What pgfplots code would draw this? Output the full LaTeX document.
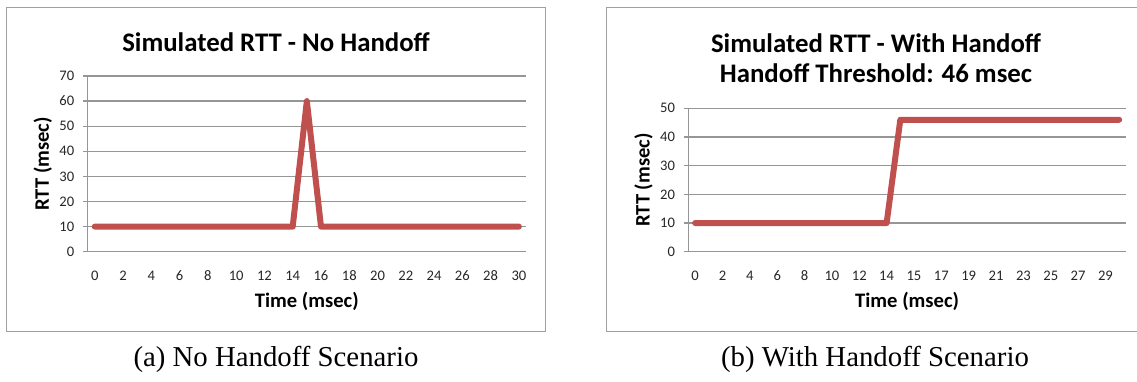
\documentclass[border=0pt]{standalone}
\usepackage{pgfplots}
\pgfplotsset{compat=1.18}
\usepackage{fontspec}
\setmainfont{Carlito}
\newfontfamily\capfont{Liberation Serif}
\definecolor{exred}{RGB}{192,80,77}
\definecolor{gridgray}{RGB}{150,150,150}
\definecolor{boxgray}{RGB}{160,160,160}
\pgfplotsset{
  rttstyle/.style={
    scale only axis,
    axis x line*=bottom,
    axis y line*=left,
    axis line style={gridgray, line width=0.6pt},
    ymajorgrids,
    grid style={gridgray, line width=0.6pt},
    tick align=outside,
    major tick length=2.2pt,
    minor tick length=2.25pt,
    xtick style={draw=none},
    minor x tick style={gridgray, line width=0.6pt},
    y tick style={gridgray, line width=0.6pt},
    /pgf/number format/assume math mode=true,
    tick label style={font=\fontsize{7.3}{9}\selectfont, text=black!85},
    xticklabel style={anchor=base, inner sep=0pt, yshift=-12.3pt},
    yticklabel style={anchor=east, inner sep=0pt, xshift=-4.3pt},
    label style={font=\fontsize{10.3}{12}\selectfont\bfseries},
    xlabel style={at={(axis description cs:0.5,0)}, anchor=center, yshift=-24.9pt},
    ylabel style={at={(axis description cs:0,0.5)}, anchor=center, yshift=22.4pt},
  },
  rttline/.style={exred, line width=3pt, line cap=round, line join=round, no markers},
}
\begin{document}
\begin{tikzpicture}[x=1pt,y=1pt]
\clip (0,0) rectangle (568.5,190.5);
% panel boxes
\draw[boxgray, line width=0.6pt] (3.35,24.65) rectangle (272.85,186.85);
\draw[boxgray, line width=0.6pt] (303.35,24.65) rectangle (572.5,186.85);

% left chart
\begin{axis}[rttstyle,
  at={(43.85pt,64.65pt)}, anchor=south west,
  width=219.15pt, height=87.85pt,
  xmin=-0.5, xmax=30.5, ymin=0, ymax=70,
  ytick={0,10,...,70},
  xtick={0,2,...,30},
  xticklabels={0,2,4,6,8,10,12,14,16,18,20,22,24,26,28,30},
  minor xtick={-0.5,1.5,...,29.5,30.5},
  xlabel={Time (msec)}, ylabel={RTT (msec)},
]
\addplot[rttline] coordinates {
(0,10) (1,10) (2,10) (3,10) (4,10) (5,10) (6,10) (7,10) (8,10) (9,10)
(10,10) (11,10) (12,10) (13,10) (14,10) (15,60) (16,10) (17,10) (18,10) (19,10)
(20,10) (21,10) (22,10) (23,10) (24,10) (25,10) (26,10) (27,10) (28,10) (29,10) (30,10)
};
\end{axis}
\node[font=\fontsize{13.4}{15}\selectfont\bfseries, anchor=center] at (138,169.5) {Simulated RTT - No Handoff};

% right chart
\begin{axis}[rttstyle,
  at={(344.15pt,64.65pt)}, anchor=south west,
  width=218.85pt, height=71.7pt,
  xmin=-0.5, xmax=31.5, ymin=0, ymax=50,
  ytick={0,10,...,50},
  xtick={0,2,...,30},
  xticklabels={0,2,4,6,8,10,12,14,15,17,19,21,23,25,27,29},
  minor xtick={-0.5,1.5,...,31.5},
  xlabel={Time (msec)}, ylabel={RTT (msec)},
]
\addplot[rttline] coordinates {
(0,10) (1,10) (2,10) (3,10) (4,10) (5,10) (6,10) (7,10) (8,10) (9,10)
(10,10) (11,10) (12,10) (13,10) (14,10) (15,46) (16,46) (17,46) (18,46) (19,46)
(20,46) (21,46) (22,46) (23,46) (24,46) (25,46) (26,46) (27,46) (28,46) (29,46) (30,46) (31,46)
};
\end{axis}
\node[font=\fontsize{13.4}{15}\selectfont\bfseries, anchor=base] at (438,164.3) {Simulated RTT - With Handoff};
\node[font=\fontsize{13.4}{15}\selectfont\bfseries, anchor=base] at (438,149.3) {Handoff Threshold: 46 msec};

% captions
\node[font=\fontsize{14.4}{16}\capfont, anchor=base] at (138,7.5) {(a) No Handoff Scenario};
\node[font=\fontsize{14.4}{16}\capfont, anchor=base] at (437.5,7.5) {(b) With Handoff Scenario};
\end{tikzpicture}
\end{document}
